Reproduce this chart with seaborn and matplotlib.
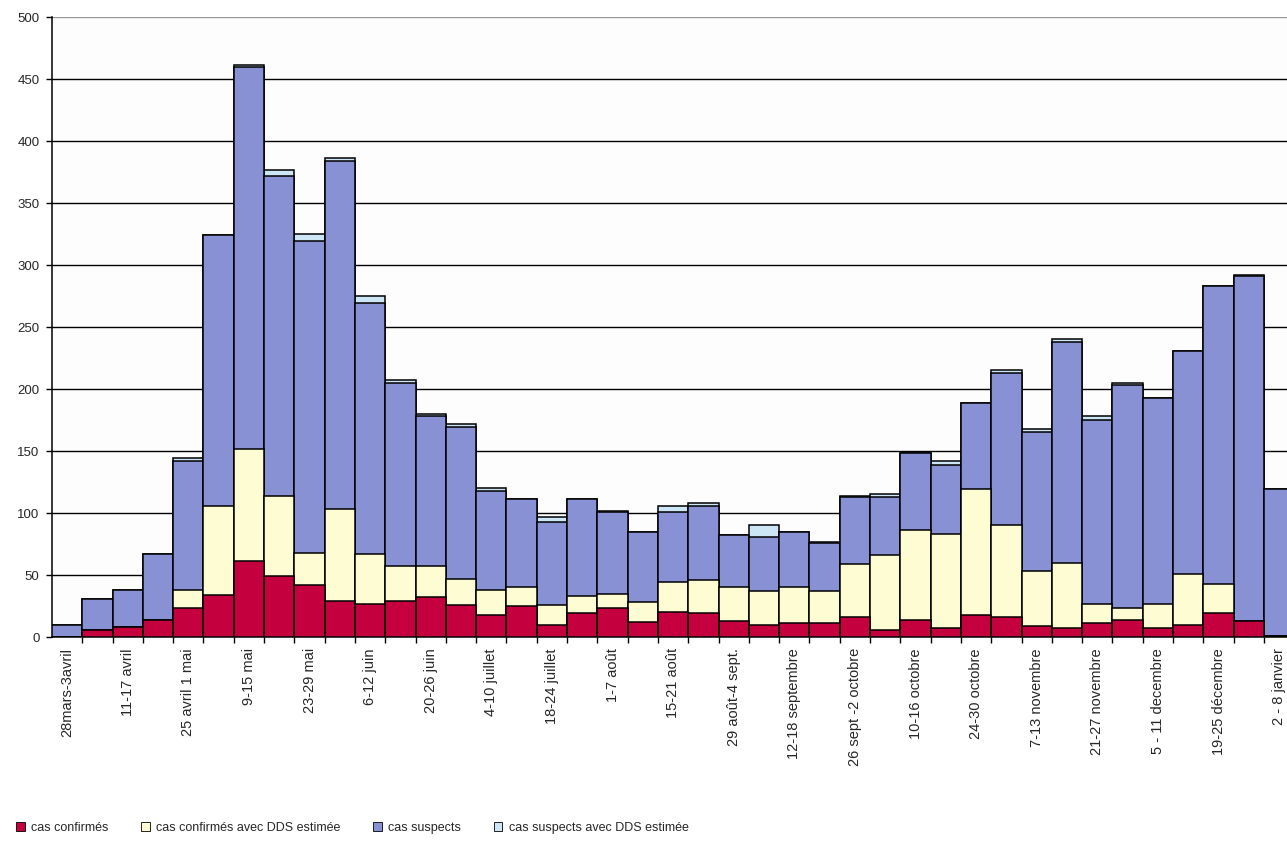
import matplotlib
matplotlib.use("Agg")
import matplotlib.pyplot as plt
from matplotlib.patches import Patch
from matplotlib.ticker import FixedLocator
import numpy as np
import pandas as pd
import seaborn as sns

weeks = ["28mars-3avril", "4-10 avril", "11-17 avril", "18-24 avril", "25 avril 1 mai",
         "2-8 mai", "9-15 mai", "16-22 mai", "23-29 mai", "30 mai-5 juin",
         "6-12 juin", "13-19 juin", "20-26 juin", "27 juin-3 juillet", "4-10 juillet",
         "11-17 juillet", "18-24 juillet", "25-31 juillet", "1-7 août", "8-14 août",
         "15-21 août", "22-28 août", "29 août-4 sept.", "5-11 sept.", "12-18 septembre",
         "19-25 septembre", "26 sept -2 octobre", "3-9 octobre", "10-16 octobre", "17-23 octobre",
         "24-30 octobre", "31 oct.-6 novembre", "7-13 novembre", "14-20 novembre", "21-27 novembre",
         "28 nov.-4 décembre", "5 - 11 decembre", "12-18 décembre", "19-25 décembre", "26 déc.-1 janvier",
         "2 - 8 janvier"]

cas_confirmes = [0, 6, 8, 14, 23, 34, 61, 49, 42, 29,
                 27, 29, 32, 26, 18, 25, 10, 19, 23, 12,
                 20, 19, 13, 10, 11, 11, 16, 6, 14, 7,
                 18, 16, 9, 7, 11, 14, 7, 10, 19, 13,
                 1]
cas_confirmes_dds = [0, 0, 0, 0, 15, 72, 91, 65, 26, 74,
                     40, 28, 25, 21, 20, 15, 16, 14, 12, 16,
                     24, 27, 27, 27, 29, 26, 43, 60, 72, 76,
                     101, 74, 44, 53, 16, 9, 20, 41, 24, 0,
                     0]
cas_suspects = [10, 25, 30, 53, 104, 218, 308, 258, 251, 281,
                202, 148, 121, 122, 80, 71, 67, 78, 66, 57,
                57, 60, 42, 44, 45, 39, 54, 47, 62, 56,
                70, 123, 112, 178, 148, 180, 166, 180, 240, 278,
                118]
cas_suspects_dds = [0, 0, 0, 0, 2, 0, 1, 5, 6, 2,
                    6, 2, 2, 3, 2, 0, 4, 0, 1, 0,
                    5, 2, 0, 9, 0, 1, 1, 2, 0, 3,
                    0, 2, 3, 2, 3, 2, 0, 0, 0, 1,
                    0]

series_names = ["cas confirmés", "cas confirmés avec DDS estimée",
                "cas suspects", "cas suspects avec DDS estimée"]
colors = ["#C4003E", "#FDFCD2", "#8891D3", "#CDE6F6"]

layers = np.array([cas_confirmes, cas_confirmes_dds, cas_suspects, cas_suspects_dds], dtype=float)
cum = np.cumsum(layers, axis=0)

sns.set_theme(style="white")
plt.rcParams['font.family'] = ['Liberation Sans', 'DejaVu Sans']

fig = plt.figure(figsize=(12.87, 8.59), dpi=100)
ax = fig.add_axes([52/1287, 1 - 637/859, 1 - 52/1287, (637 - 17)/859])
ax.set_facecolor("#FDFDFD")
fig.patch.set_facecolor("white")

df = pd.DataFrame({"week": weeks})
for k in range(3, -1, -1):
    df["v"] = cum[k]
    sns.barplot(data=df, x="week", y="v", order=weeks, color=colors[k], saturation=1,
                width=1.0, edgecolor="black", linewidth=1.1, ax=ax, errorbar=None, zorder=3)

ax.set_ylim(0, 500)
ax.set_xlim(-0.5, 40.26)
ax.set_yticks(np.arange(0, 501, 50))
ax.set_yticklabels([str(v) for v in range(0, 501, 50)], fontsize=9.5)
ax.yaxis.grid(True, color="black", linewidth=1.0, zorder=0)
ax.set_axisbelow(True)
ax.get_ygridlines()[-1].set_color("#999999")

shown = list(range(0, 41, 2))
ax.xaxis.set_major_locator(FixedLocator(shown))
ax.set_xticklabels([weeks[i] for i in shown], rotation=90, fontsize=10.5, va="top")
ax.xaxis.set_minor_locator(FixedLocator(np.arange(0.5, 40.5, 1)))
ax.tick_params(axis="x", which="major", length=0, pad=8)
ax.tick_params(axis="x", which="minor", length=4, color="black", width=1, direction="out", bottom=True)
ax.tick_params(axis="y", which="major", length=4, color="black", width=1, direction="out", left=True, pad=5)
ax.set_xlabel("")
ax.set_ylabel("")

for s in ["top", "right"]:
    ax.spines[s].set_visible(False)
ax.spines["left"].set_color("black")
ax.spines["bottom"].set_color("black")
ax.spines["left"].set_linewidth(1.1)
ax.spines["bottom"].set_linewidth(1.1)

handles = [Patch(facecolor=c, edgecolor="black", linewidth=0.6) for c in colors]
fig.legend(handles, series_names, loc="center left", bbox_to_anchor=(0.004, 0.036),
           ncol=4, frameon=False, fontsize=9, handlelength=0.7, handleheight=0.7,
           handletextpad=0.5, columnspacing=2.6)

fig.savefig("out.png", dpi=100)
